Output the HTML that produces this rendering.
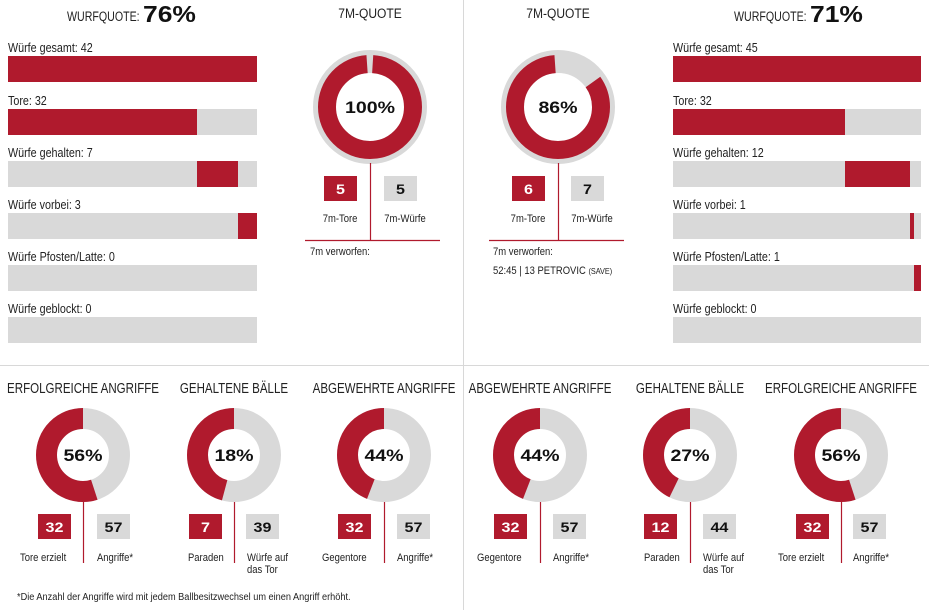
<!DOCTYPE html>
<html><head><meta charset="utf-8"><style>
html,body{margin:0;padding:0;background:#fff;}
svg{display:block;}
text{font-family:"Liberation Sans",sans-serif;fill:#222;transform-box:fill-box;}
.b{font-weight:bold;fill:#111;}
.n{transform:scaleX(0.86);transform-origin:left center;}
.t{transform:scaleX(0.77);transform-origin:center center;}
.c{transform:scaleX(0.86);transform-origin:center center;}
.w{transform:scaleX(1.15);transform-origin:center center;}
.wl{transform:scaleX(1.15);transform-origin:left center;}
</style></head><body>
<svg width="929" height="610" viewBox="0 0 929 610" xmlns="http://www.w3.org/2000/svg">
<rect width="929" height="610" fill="#fff"/>
<line x1="463.5" y1="0" x2="463.5" y2="610" stroke="#d8d8d8" stroke-width="1"/>
<line x1="0" y1="365.5" x2="929" y2="365.5" stroke="#d8d8d8" stroke-width="1"/>

<!-- headers -->
<text x="67" y="21" font-size="14" class="n" style="transform:scaleX(0.76)">WURFQUOTE:</text><text x="143" y="22" class="b wl" font-size="23">76%</text>
<text x="370" y="18" font-size="14" text-anchor="middle" class="c">7M-QUOTE</text>
<text x="558" y="18" font-size="14" text-anchor="middle" class="c">7M-QUOTE</text>
<text x="734" y="21" font-size="14" class="n" style="transform:scaleX(0.76)">WURFQUOTE:</text><text x="810" y="22" class="b wl" font-size="23">71%</text>

<!-- left bars -->
<g font-size="12.5">
<text x="8" y="52" class="n">Würfe gesamt: 42</text>
<rect x="8" y="56" width="249" height="26" fill="#b01a2d"/>
<text x="8" y="105" class="n">Tore: 32</text>
<rect x="8" y="109" width="249" height="26" fill="#d9d9d9"/><rect x="8" y="109" width="189" height="26" fill="#b01a2d"/>
<text x="8" y="157" class="n">Würfe gehalten: 7</text>
<rect x="8" y="161" width="249" height="26" fill="#d9d9d9"/><rect x="197" y="161" width="41" height="26" fill="#b01a2d"/>
<text x="8" y="209" class="n">Würfe vorbei: 3</text>
<rect x="8" y="213" width="249" height="26" fill="#d9d9d9"/><rect x="238" y="213" width="19" height="26" fill="#b01a2d"/>
<text x="8" y="261" class="n">Würfe Pfosten/Latte: 0</text>
<rect x="8" y="265" width="249" height="26" fill="#d9d9d9"/>
<text x="8" y="313" class="n">Würfe geblockt: 0</text>
<rect x="8" y="317" width="249" height="26" fill="#d9d9d9"/>
</g>

<!-- right bars -->
<g font-size="12.5">
<text x="673" y="52" class="n">Würfe gesamt: 45</text>
<rect x="673" y="56" width="248" height="26" fill="#b01a2d"/>
<text x="673" y="105" class="n">Tore: 32</text>
<rect x="673" y="109" width="248" height="26" fill="#d9d9d9"/><rect x="673" y="109" width="172" height="26" fill="#b01a2d"/>
<text x="673" y="157" class="n">Würfe gehalten: 12</text>
<rect x="673" y="161" width="248" height="26" fill="#d9d9d9"/><rect x="845" y="161" width="65" height="26" fill="#b01a2d"/>
<text x="673" y="209" class="n">Würfe vorbei: 1</text>
<rect x="673" y="213" width="248" height="26" fill="#d9d9d9"/><rect x="910" y="213" width="4" height="26" fill="#b01a2d"/>
<text x="673" y="261" class="n">Würfe Pfosten/Latte: 1</text>
<rect x="673" y="265" width="248" height="26" fill="#d9d9d9"/><rect x="914" y="265" width="7" height="26" fill="#b01a2d"/>
<text x="673" y="313" class="n">Würfe geblockt: 0</text>
<rect x="673" y="317" width="248" height="26" fill="#d9d9d9"/>
</g>

<!-- 7m left -->
<circle cx="370" cy="107" r="45.5" fill="none" stroke="#d9d9d9" stroke-width="23"/>
<g transform="translate(370 107) scale(-1 1) rotate(-90)">
<circle r="43" fill="none" stroke="#b01a2d" stroke-width="18" stroke-dasharray="264 10" stroke-dashoffset="-3"/>
</g>
<text x="370" y="113" class="b w" font-size="17" text-anchor="middle">100%</text>
<line x1="370.5" y1="163" x2="370.5" y2="240" stroke="#b01a2d" stroke-width="1.2"/>
<line x1="305" y1="240.5" x2="440" y2="240.5" stroke="#b01a2d" stroke-width="1.2"/>
<rect x="324" y="176" width="33" height="25" fill="#b01a2d"/><text x="340.5" y="194" class="b w" font-size="14" text-anchor="middle" style="fill:#fff">5</text>
<rect x="384" y="176" width="33" height="25" fill="#d9d9d9"/><text x="400.5" y="194" class="b w" font-size="14" text-anchor="middle">5</text>
<text x="340" y="222" font-size="11" text-anchor="middle" class="c">7m-Tore</text>
<text x="405" y="222" font-size="11" text-anchor="middle" class="c">7m-Würfe</text>
<text x="310" y="255" font-size="11" class="n">7m verworfen:</text>

<!-- 7m right -->
<circle cx="558" cy="107" r="45.5" fill="none" stroke="#d9d9d9" stroke-width="23"/>
<g transform="translate(558 107) scale(-1 1) rotate(-90)">
<circle r="43" fill="none" stroke="#b01a2d" stroke-width="18" stroke-dasharray="226 100" stroke-dashoffset="-3"/>
</g>
<text x="558" y="113" class="b w" font-size="17" text-anchor="middle">86%</text>
<line x1="558.5" y1="163" x2="558.5" y2="240" stroke="#b01a2d" stroke-width="1.2"/>
<line x1="489" y1="240.5" x2="624" y2="240.5" stroke="#b01a2d" stroke-width="1.2"/>
<rect x="512" y="176" width="33" height="25" fill="#b01a2d"/><text x="528.5" y="194" class="b w" font-size="14" text-anchor="middle" style="fill:#fff">6</text>
<rect x="571" y="176" width="33" height="25" fill="#d9d9d9"/><text x="587.5" y="194" class="b w" font-size="14" text-anchor="middle">7</text>
<text x="528" y="222" font-size="11" text-anchor="middle" class="c">7m-Tore</text>
<text x="592" y="222" font-size="11" text-anchor="middle" class="c">7m-Würfe</text>
<text x="493" y="255" font-size="11" class="n">7m verworfen:</text>
<text x="493" y="274" font-size="11" class="n">52:45 | 13 PETROVIC <tspan font-size="8.5">(SAVE)</tspan></text>

<!-- bottom donuts -->
<g font-size="15" text-anchor="middle">
<text x="83" y="393" class="t">ERFOLGREICHE ANGRIFFE</text>
<text x="234" y="393" class="t">GEHALTENE BÄLLE</text>
<text x="384" y="393" class="t">ABGEWEHRTE ANGRIFFE</text>
<text x="540" y="393" class="t">ABGEWEHRTE ANGRIFFE</text>
<text x="690" y="393" class="t">GEHALTENE BÄLLE</text>
<text x="841" y="393" class="t">ERFOLGREICHE ANGRIFFE</text>
</g>

<g fill="none" stroke="#d9d9d9" stroke-width="21">
<circle cx="83" cy="455" r="36.5"/><circle cx="234" cy="455" r="36.5"/><circle cx="384" cy="455" r="36.5"/>
<circle cx="540" cy="455" r="36.5"/><circle cx="690" cy="455" r="36.5"/><circle cx="841" cy="455" r="36.5"/>
</g>
<g fill="none" stroke="#b01a2d" stroke-width="21">
<circle r="36.5" transform="translate(83 455) scale(-1 1) rotate(-90)" stroke-dasharray="126 300"/>
<circle r="36.5" transform="translate(234 455) scale(-1 1) rotate(-90)" stroke-dasharray="105 300"/>
<circle r="36.5" transform="translate(384 455) scale(-1 1) rotate(-90)" stroke-dasharray="101 300"/>
<circle r="36.5" transform="translate(540 455) scale(-1 1) rotate(-90)" stroke-dasharray="101 300"/>
<circle r="36.5" transform="translate(690 455) scale(-1 1) rotate(-90)" stroke-dasharray="98 300"/>
<circle r="36.5" transform="translate(841 455) scale(-1 1) rotate(-90)" stroke-dasharray="126 300"/>
</g>
<g font-size="17" text-anchor="middle">
<text x="83" y="461" class="b w">56%</text><text x="234" y="461" class="b w">18%</text><text x="384" y="461" class="b w">44%</text>
<text x="540" y="461" class="b w">44%</text><text x="690" y="461" class="b w">27%</text><text x="841" y="461" class="b w">56%</text>
</g>
<g stroke="#b01a2d" stroke-width="1.2">
<line x1="83.5" y1="502" x2="83.5" y2="563"/><line x1="234.5" y1="502" x2="234.5" y2="563"/><line x1="384.5" y1="502" x2="384.5" y2="563"/>
<line x1="540.5" y1="502" x2="540.5" y2="563"/><line x1="690.5" y1="502" x2="690.5" y2="563"/><line x1="841.5" y1="502" x2="841.5" y2="563"/>
</g>
<g fill="#b01a2d">
<rect x="38" y="514" width="33" height="25"/><rect x="189" y="514" width="33" height="25"/><rect x="338" y="514" width="33" height="25"/>
<rect x="494" y="514" width="33" height="25"/><rect x="644" y="514" width="33" height="25"/><rect x="796" y="514" width="33" height="25"/>
</g>
<g fill="#d9d9d9">
<rect x="97" y="514" width="33" height="25"/><rect x="246" y="514" width="33" height="25"/><rect x="397" y="514" width="33" height="25"/>
<rect x="553" y="514" width="33" height="25"/><rect x="703" y="514" width="33" height="25"/><rect x="853" y="514" width="33" height="25"/>
</g>
<g font-size="14" text-anchor="middle">
<text x="54.5" y="532" class="b w" style="fill:#fff">32</text><text x="205.5" y="532" class="b w" style="fill:#fff">7</text><text x="354.5" y="532" class="b w" style="fill:#fff">32</text>
<text x="510.5" y="532" class="b w" style="fill:#fff">32</text><text x="660.5" y="532" class="b w" style="fill:#fff">12</text><text x="812.5" y="532" class="b w" style="fill:#fff">32</text>
<text x="113.5" y="532" class="b w">57</text><text x="262.5" y="532" class="b w">39</text><text x="413.5" y="532" class="b w">57</text>
<text x="569.5" y="532" class="b w">57</text><text x="719.5" y="532" class="b w">44</text><text x="869.5" y="532" class="b w">57</text>
</g>
<g font-size="11">
<text x="20" y="561" class="n">Tore erzielt</text><text x="97" y="561" class="n">Angriffe*</text>
<text x="188" y="561" class="n">Paraden</text><text x="247" y="561" class="n">Würfe auf</text><text x="247" y="573" class="n">das Tor</text>
<text x="322" y="561" class="n">Gegentore</text><text x="397" y="561" class="n">Angriffe*</text>
<text x="477" y="561" class="n">Gegentore</text><text x="553" y="561" class="n">Angriffe*</text>
<text x="644" y="561" class="n">Paraden</text><text x="703" y="561" class="n">Würfe auf</text><text x="703" y="573" class="n">das Tor</text>
<text x="778" y="561" class="n">Tore erzielt</text><text x="853" y="561" class="n">Angriffe*</text>
</g>
<text x="17" y="600" font-size="10" class="n" style="transform:scaleX(0.92)">*Die Anzahl der Angriffe wird mit jedem Ballbesitzwechsel um einen Angriff erhöht.</text>
</svg>
</body></html>
